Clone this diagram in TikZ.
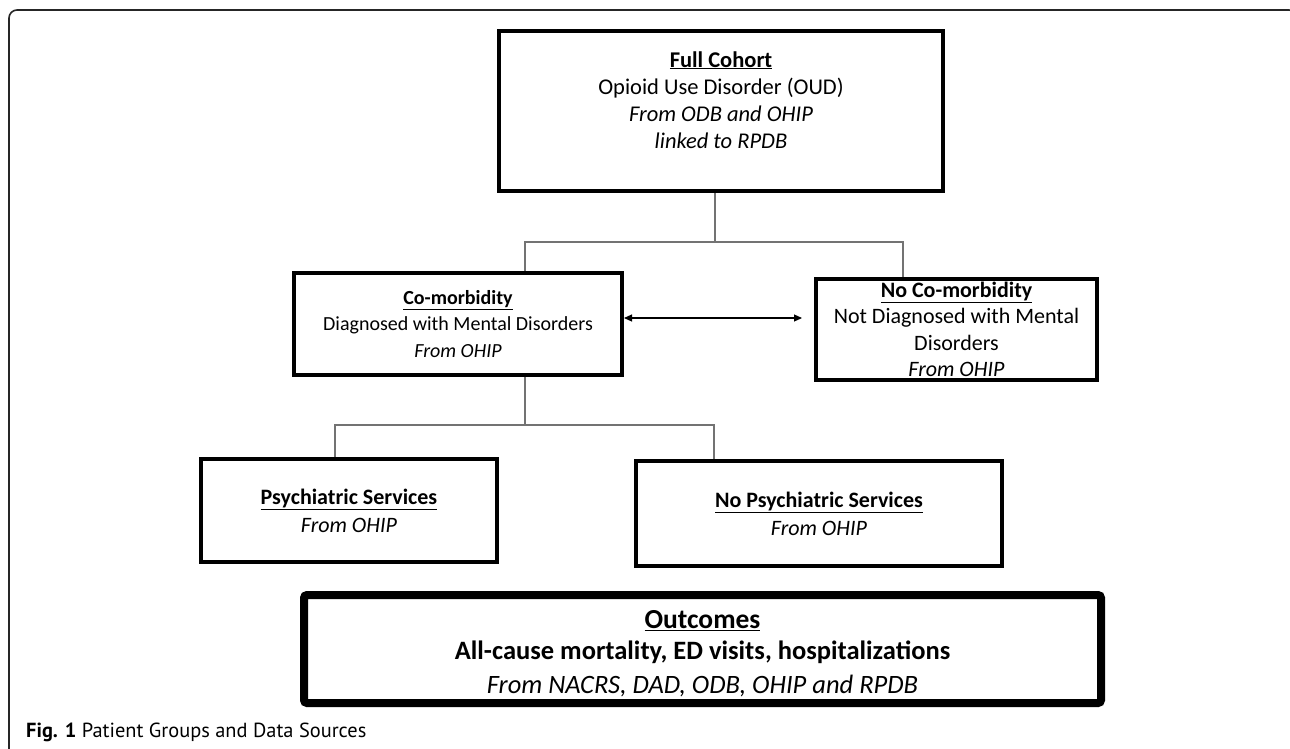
\documentclass[tikz,border=0pt]{standalone}
\usepackage{fontspec}
\setmainfont{Carlito}
\newfontfamily\capfont{PT Sans}
\usetikzlibrary{arrows.meta,calc}
\begin{document}
\begin{tikzpicture}[x=1pt,y=-1pt,
  box/.style={draw=black,line width=4pt,rectangle,align=center,inner sep=0pt,
    font=\fontsize{21}{26.5}\selectfont},
  conn/.style={draw=black!55,line width=1.2pt},
  arr/.style={draw=black,line width=1.1pt,{Triangle[length=8pt,width=7pt]}-{Triangle[length=8pt,width=7pt]}},
  frame/.style={draw=black!85,line width=1.6pt,rounded corners=8pt}]
\useasboundingbox (0,0) rectangle (1290,748);
\fill[white] (0,0) rectangle (1290,748);
\draw[frame] (9,760) -- (9,10) -- (1297,10) -- (1297,760);

\node[box,minimum width=444,minimum height=160,font=\fontsize{22.5}{27}\selectfont] (full) at (721,111)
  {\underline{\textbf{Full Cohort}}\\Opioid Use Disorder (OUD)\\\textit{From ODB and OHIP}\\\textit{linked to RPDB}\\[-12.5pt] \strut};
\node[box,minimum width=328,minimum height=102,font=\fontsize{20}{26.5}\selectfont] (como) at (458,324)
  {\underline{\textbf{Co-morbidity}}\\Diagnosed with Mental Disorders\\\textit{From OHIP}};
\node[box,minimum width=281,minimum height=101,font=\fontsize{22}{26.5}\selectfont] (nocom) at (956.5,329.5)
  {\underline{\textbf{No Co-morbidity}}\\Not Diagnosed with Mental\\Disorders\\\textit{From OHIP}};
\node[box,minimum width=296,minimum height=103,font=\fontsize{22}{28}\selectfont] (psy) at (349,510.5)
  {\underline{\textbf{Psychiatric Services}}\\\textit{From OHIP}};
\node[box,minimum width=366,minimum height=105,font=\fontsize{22}{28}\selectfont] (nopsy) at (819,513.5)
  {\underline{\textbf{No Psychiatric Services}}\\\textit{From OHIP}};
\node[box,line width=8pt,rounded corners=3pt,minimum width=797,minimum height=108,font=\fontsize{26.5}{31}\selectfont] (out) at (702.5,649)
  {\strut\\[-25pt]
   {\fontsize{27.5}{31}\selectfont\underline{\textbf{Outcomes}}}\\
   \textbf{All-cause mortality, ED visits, hospitalizations}\\[3pt]
   \textit{From NACRS, DAD, ODB, OHIP and RPDB}};

\draw[conn] ([xshift=-6pt]full.south) -- ++(0,49) coordinate (j1);
\draw[conn] ([xshift=67pt]como.north) |- (j1) -| ([xshift=-53.5pt]nocom.north);
\draw[conn] ([xshift=67pt]como.south) -- ++(0,48) coordinate (j2);
\draw[conn] ([xshift=-14pt]psy.north) |- (j2) -| ([xshift=-105pt]nopsy.north);

\path ([yshift=6pt]como.east) coordinate (a1);
\path (a1 -| nocom.west) coordinate (a2);
\draw[arr] (a1) -- ([xshift=-12pt]a2);

\node[anchor=base west,inner sep=0pt,font=\capfont\fontsize{20.4}{22}\selectfont] (cap) at (26,737)
  {\textbf{Fig. 1} Patient Groups and Data Sources};
\end{tikzpicture}
\end{document}
